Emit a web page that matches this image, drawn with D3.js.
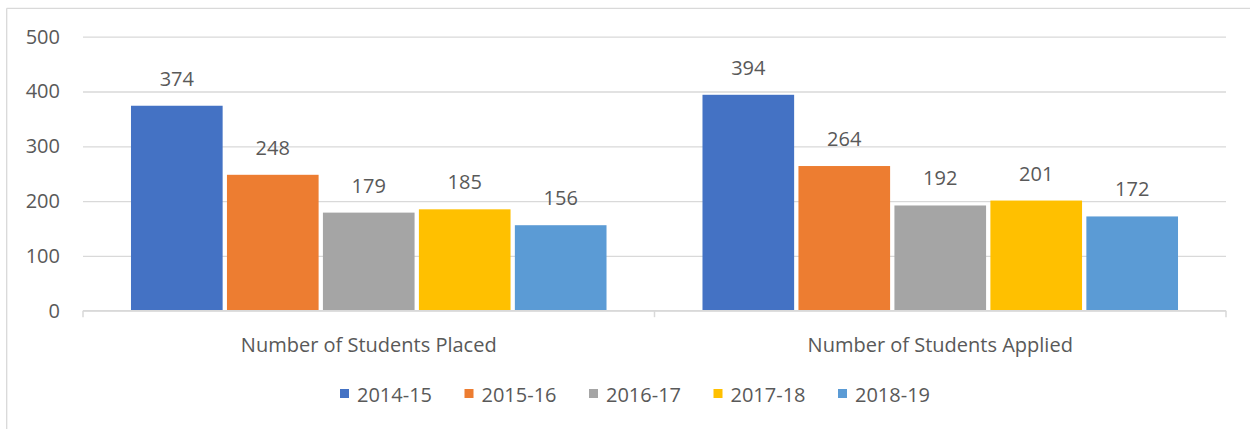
<!DOCTYPE html>
<html>
<head>
<meta charset="utf-8">
<script src="https://cdn.jsdelivr.net/npm/d3@7"></script>
<style>
	body { margin: 0; background: #fff; }
	svg { display: block; font-family: "Open Sans", sans-serif; }
</style>
</head>
<body>
<div id="chart"></div>
<script>
// data
const categories = ['Number of Students Placed', 'Number of Students Applied'];
const seriesNames = ['2014-15', '2015-16', '2016-17', '2017-18', '2018-19'];
const placed = [374, 248, 179, 185, 156];
const applied = [394, 264, 192, 201, 172];
const yTicks = [0, 100, 200, 300, 400, 500];
const colors = ['#4472C4', '#ED7D31', '#A5A5A5', '#FFC000', '#5B9BD5'];

const width = 1250, height = 429;
const plot = {left: 83, right: 1226, top: 36.7, bottom: 310.7};
const textColor = '#595959';
const lineColor = '#d9d9d9';

const rows = categories.map((c, i) => ({
	cat: c,
	vals: seriesNames.map((s, j) => ({series: s, value: (i === 0 ? placed : applied)[j]}))
}));

const svg = d3.select('#chart').append('svg')
	.attr('width', width)
	.attr('height', height);

// chart border (top + left visible)
svg.append('line').attr('x1', 6.7).attr('x2', width).attr('y1', 8.3).attr('y2', 8.3)
	.attr('stroke', lineColor).attr('stroke-width', 1.3);
svg.append('line').attr('x1', 6.7).attr('x2', 6.7).attr('y1', 8.3).attr('y2', height)
	.attr('stroke', lineColor).attr('stroke-width', 1.3);

//scales
const x0 = d3.scaleBand()
	.domain(categories)
	.range([plot.left, plot.right])
	.padding(0);

const x1 = d3.scaleBand()
	.domain(seriesNames)
	.range([0, x0.bandwidth()])
	.paddingInner(0.045)
	.paddingOuter(0.5);

const y = d3.scaleLinear()
	.domain([0, 500])
	.range([plot.bottom, plot.top]);

// gridlines + y labels
const yAxis = svg.append('g')
	.attr('transform', `translate(${plot.left},0)`)
	.call(d3.axisLeft(y).tickValues(yTicks).tickSize(-(plot.right - plot.left)).tickPadding(23));
yAxis.select('.domain').remove();
yAxis.selectAll('.tick line').attr('stroke', lineColor).attr('stroke-width', 1.3);
yAxis.selectAll('.tick text')
	.attr('fill', textColor)
	.style('font-size', '20px')
	.style('font-family', '"Open Sans", sans-serif');

// bars
const groups = svg.selectAll('.grp')
	.data(rows)
	.enter().append('g')
	.attr('class', 'grp')
	.attr('transform', d => `translate(${x0(d.cat)},0)`);

groups.selectAll('rect')
	.data(d => d.vals)
	.enter().append('rect')
	.attr('x', d => x1(d.series))
	.attr('y', d => y(d.value))
	.attr('width', x1.bandwidth())
	.attr('height', d => y(0) - y(d.value))
	.attr('fill', (d, i) => colors[i]);

groups.selectAll('.lbl')
	.data(d => d.vals)
	.enter().append('text')
	.attr('class', 'lbl')
	.attr('x', d => x1(d.series) + x1.bandwidth() / 2)
	.attr('y', d => y(d.value) - 20)
	.attr('text-anchor', 'middle')
	.attr('fill', textColor)
	.style('font-size', '20px')
	.text(d => d.value);

// x axis
const xAxis = svg.append('g')
	.attr('transform', `translate(0,${plot.bottom})`)
	.call(d3.axisBottom(x0).tickSize(0).tickPadding(0));
xAxis.select('.domain').remove();
xAxis.selectAll('.tick text').remove();

svg.append('line')
	.attr('x1', plot.left).attr('x2', plot.right)
	.attr('y1', plot.bottom).attr('y2', plot.bottom)
	.attr('stroke', lineColor).attr('stroke-width', 1.5);

const edges = [plot.left].concat(categories.map(c => x0(c) + x0.bandwidth()));
svg.selectAll('.xtick')
	.data(edges)
	.enter().append('line')
	.attr('class', 'xtick')
	.attr('x1', d => d).attr('x2', d => d)
	.attr('y1', plot.bottom).attr('y2', plot.bottom + 6.5)
	.attr('stroke', lineColor).attr('stroke-width', 1.5);

svg.selectAll('.catlbl')
	.data(categories)
	.enter().append('text')
	.attr('class', 'catlbl')
	.attr('x', d => x0(d) + x0.bandwidth() / 2)
	.attr('y', 352)
	.attr('text-anchor', 'middle')
	.attr('fill', textColor)
	.style('font-size', '20px')
	.text(d => d);

// legend
const legX = d3.scaleBand()
	.domain(seriesNames)
	.range([340, 340 + 5 * 124.5]);

const leg = svg.selectAll('.leg')
	.data(seriesNames)
	.enter().append('g')
	.attr('class', 'leg')
	.attr('transform', d => `translate(${legX(d)},0)`);

leg.append('rect')
	.attr('x', 0).attr('y', 389)
	.attr('width', 9).attr('height', 9)
	.attr('fill', (d, i) => colors[i]);

leg.append('text')
	.attr('x', 17).attr('y', 401.5)
	.attr('fill', textColor)
	.style('font-size', '20px')
	.text(d => d);
</script>
</body>
</html>
